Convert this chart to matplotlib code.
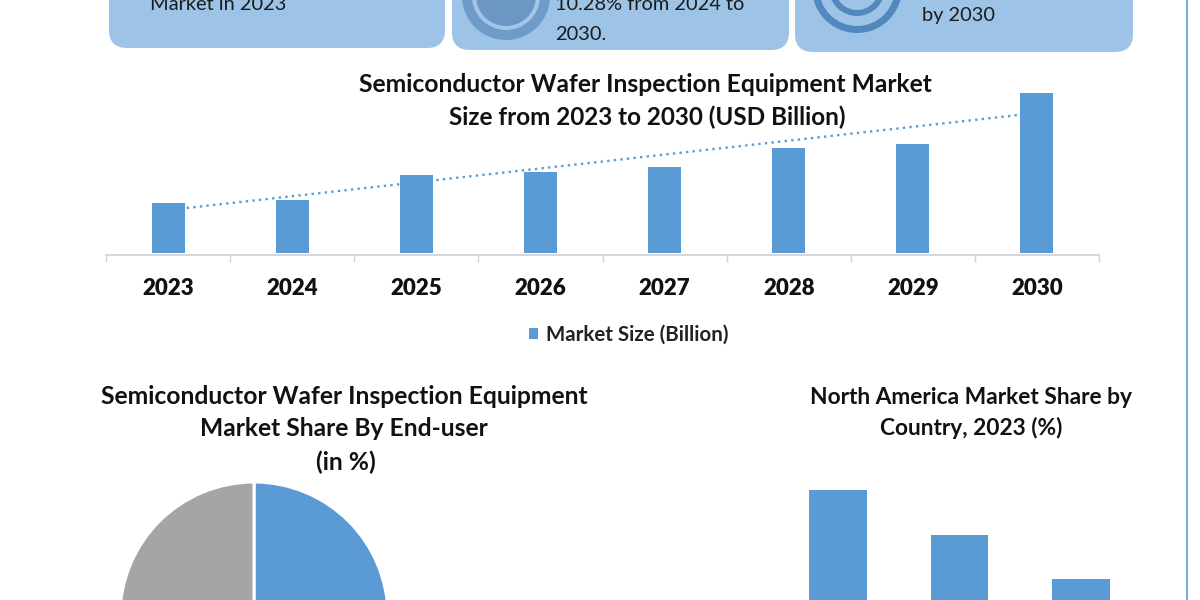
import matplotlib
matplotlib.use('Agg')
import matplotlib.pyplot as plt
from matplotlib.patches import FancyBboxPatch, Circle

years = ['2023', '2024', '2025', '2026', '2027', '2028', '2029', '2030']
market_size = [50, 53, 78, 81, 86, 105, 109, 160]
trend_pos = [0.15, 6.85]
trend_val = [45, 138]
pie_share = [50, 50]
country_pos = [0, 1, 2]
country_share = [150, 105, 61]

blue = '#5B9BD5'
box_blue = '#9DC3E6'
grey = '#A5A5A5'
axis_grey = '#D0D0D0'
W, H = 1200, 600

plt.rcParams['font.family'] = ['Lato', 'DejaVu Sans']
fig = plt.figure(figsize=(12, 6), dpi=100)


def px_axes(left, top, right, bottom):
    return fig.add_axes([left/W, 1-bottom/H, (right-left)/W, (bottom-top)/H])


# background layer, pixel coordinates
bg = fig.add_axes([0, 0, 1, 1])
bg.set_xlim(0, W)
bg.set_ylim(H, 0)
bg.axis('off')

for x0, x1, yb in [(109, 445, 48), (452, 789, 50), (795, 1133, 52)]:
    bg.add_patch(FancyBboxPatch((x0, -40), x1-x0, yb+40,
                                boxstyle='round,pad=0,rounding_size=18',
                                fc=box_blue, ec='none'))

for r, c in [(44, '#6F9BC8'), (34, '#A4C6E6'), (30, '#6B97C2')]:
    bg.add_patch(Circle((506, -4), r, fc=c, ec='none'))

for r, c in [(45, '#5189BE'), (38, box_blue), (28, '#5189BE'), (22, box_blue)]:
    bg.add_patch(Circle((857, -12), r, fc=c, ec='none'))

bg.plot([1187, 1187], [0, H], color=blue, lw=1.2)

box_font = dict(fontsize=14.4, color='#1c1c1c', va='center', ha='left')
bg.text(150, 5, 'Market in 2023', **box_font)
bg.text(555, 5, '10.28% from 2024 to', **box_font)
bg.text(555, 34, '2030.', **box_font)
bg.text(922, 15, 'by 2030', **box_font)

title_font = dict(fontsize=17.7, fontweight='bold', color='#111111', ha='center', va='center')
bg.text(645, 85, 'Semiconductor Wafer Inspection Equipment Market', **title_font)
bg.text(647.5, 117, 'Size from 2023 to 2030 (USD Billion)', fontsize=17.45,
        **{k: v for k, v in title_font.items() if k != 'fontsize'})
bg.text(344, 397, 'Semiconductor Wafer Inspection Equipment', **title_font)
bg.text(344, 429, 'Market Share By End-user', **title_font)
bg.text(346, 462, '(in %)', **title_font)
title_font['fontsize'] = 16.4
bg.text(971, 397, 'North America Market Share by', **title_font)
bg.text(971, 428, 'Country, 2023 (%)', **title_font)

# market size bars
ax = px_axes(106, 85, 1099, 255)
ax.patch.set_alpha(0)
pos = range(len(years))
bars = ax.bar(pos, market_size, width=0.265, color=blue, label='Market Size (Billion)')
ax.plot(trend_pos, trend_val, color=blue, ls=(0, (1, 1.8)), lw=1.7)
ax.set_xlim(-0.5, 7.5)
ax.set_ylim(-2, 168)
for s in ['top', 'left', 'right']:
    ax.spines[s].set_visible(False)
ax.spines['bottom'].set_color(axis_grey)
ax.spines['bottom'].set_linewidth(1.2)
ax.set_yticks([])
ax.set_xticks(list(pos))
ax.set_xticklabels(years, fontsize=16, fontweight='heavy', color='#111111')
ax.tick_params(axis='x', which='major', length=0, pad=16.5)
ax.set_xticks([p-0.5 for p in range(len(years)+1)], minor=True)
ax.tick_params(axis='x', which='minor', length=5.2, width=1, color=axis_grey)
fig.legend(handles=[bars], labels=['Market Size (Billion)'], loc='center', bbox_to_anchor=(629/W, 1-335/H),
           frameon=False, handlelength=0.42, handleheight=0.42, handletextpad=0.42,
           prop=dict(size=14.8, weight='bold'), labelcolor='#222222')

# end-user pie, runs off the bottom of the picture
ax2 = px_axes(120, 482, 388, 750)
ax2.pie(pie_share, colors=[blue, grey], startangle=90, counterclock=False,
        wedgeprops=dict(edgecolor='white', linewidth=2.2))
ax2.set_xlim(-1, 1)
ax2.set_ylim(-1, 1)

# country bars, also cut off
ax3 = px_axes(777, 480, 1142, 640)
ax3.bar(country_pos, country_share, width=0.475, color=blue)
ax3.set_xlim(-0.5, 2.5)
ax3.set_ylim(0, 160)
ax3.axis('off')

fig.savefig('out.png', dpi=100)
